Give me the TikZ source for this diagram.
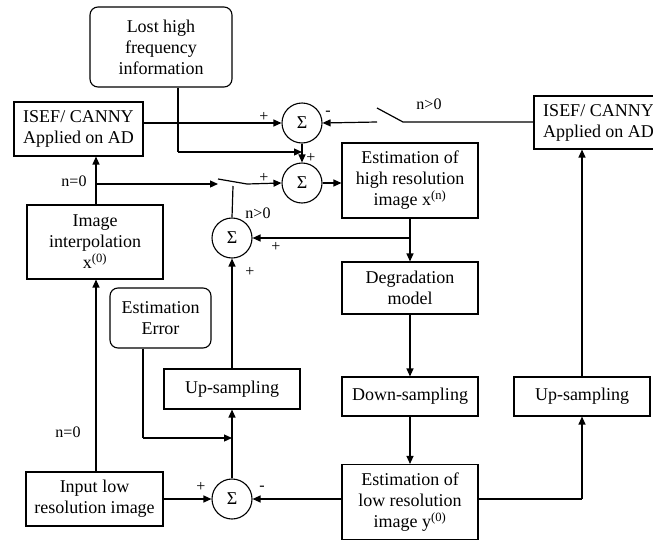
\documentclass[tikz,border=0pt]{standalone}
\usepackage{fontspec}
\setmainfont{Liberation Serif}
\usetikzlibrary{arrows.meta,positioning}
\begin{document}
\begin{tikzpicture}[x=1pt,y=-1pt,
  every node/.style={font=\fontsize{18}{21}\selectfont},
  blk/.style={draw,line width=1.1pt,align=center,inner sep=0pt,minimum width=#1},
  blk/.default=136pt,
  rblk/.style={draw,line width=1.1pt,align=center,inner sep=0pt,rounded corners=8pt},
  sumn/.style={draw,circle,line width=1.1pt,minimum size=40pt,inner sep=0pt},
  con/.style={line width=1.2pt},
  arr/.style={line width=1.2pt,-{Triangle[length=8pt,width=7pt]}},
  lbl/.style={inner sep=0pt,font=\fontsize{16}{18}\selectfont}
]
\useasboundingbox (0,0) rectangle (653,541);
% boxes
\node[rblk,minimum width=142pt,minimum height=80pt] (lost) at (161,47) {Lost high\\frequency\\information};
\node[blk=129pt,minimum height=54pt] (isefl) at (78.5,129) {ISEF/ CANNY\\Applied on AD};
\node[blk=136pt,minimum height=74pt] (interp) at (95,242) {Image\\interpolation\\x\textsuperscript{(0)}};
\node[rblk,minimum width=101pt,minimum height=60pt] (err) at (160.5,318) {Estimation\\Error};
\node[blk=136pt,minimum height=40pt] (upl) at (232,389) {Up-sampling};
\node[blk=137pt,minimum height=54pt] (input) at (94.5,499) {Input low\\resolution image};
\node[blk=136pt,minimum height=75pt] (esth) at (410,180.5) {Estimation of\\high resolution\\image x\textsuperscript{(n)}};
\node[blk=136pt,minimum height=52pt] (deg) at (410,288) {Degradation\\model};
\node[blk=136pt,minimum height=39pt] (down) at (410,396.5) {Down-sampling};
\node[blk=136pt,minimum height=75pt] (estl) at (410,502) {Estimation of\\low resolution\\image y\textsuperscript{(0)}};
\node[blk=136pt,minimum height=39pt] (upr) at (582,396.5) {Up-sampling};
\node[draw,line width=1.1pt,minimum width=129pt,minimum height=53pt,inner sep=0pt] (iserbox) at (598.5,122.5) {};
\node[align=center,inner sep=0pt] (iser) at (598.5,122.5) {ISEF/ CANNY\\Applied on AD};
% sums
\node[sumn] (s1) at (302,123) {Σ};
\node[sumn] (s2) at (302,183) {Σ};
\node[sumn] (sm) at (232,238) {Σ};
\node[sumn] (sb) at (232,499) {Σ};
% coordinates
\coordinate (lc2) at (178,152);
\coordinate (j152) at (302,152);
\coordinate (swA) at (403,122);
\coordinate (swB) at (377,108);
\coordinate (swC) at (377,122);
\coordinate (br) at (96,184);
\coordinate (sw2a) at (218,184);
\coordinate (sw2b) at (218,179);
\coordinate (sw2c) at (247,184);
\coordinate (piv) at (233,186);
\coordinate (j238) at (410,238);
\coordinate (ej) at (143,438);
\coordinate (ej2) at (232,438);
\coordinate (rc) at (582,499);
% connectors
\draw[arr] (isefl.east |- s1) -- (s1.west);
\draw[con] (iserbox.west |- swA) -- (swA) -- (swB);
\draw[arr] (swC) -- (s1.east);
\draw[arr] (s1.south) -- (s2.north);
\draw[con] (lost.south -| lc2) -- (lc2);
\draw[arr] (lc2) -- (j152);
\draw[arr] (interp.north -| br) -- (isefl.south -| br);
\draw[arr] (br) -- (sw2a);
\draw[con] (sw2b) -- (sw2c);
\draw[arr] (sw2c) -- (s2.west);
\draw[con] (sm.north) -- (piv);
\draw[arr] (s2.east) -- (esth.west |- s2);
\draw[arr] (esth.south) -- (deg.north);
\draw[arr] (j238) -- (sm.east);
\draw[arr] (deg.south) -- (down.north);
\draw[arr] (down.south) -- (estl.north);
\draw[arr] (estl.west |- sb) -- (sb.east);
\draw[arr] (input.east |- sb) -- (sb.west);
\draw[arr] (sb.north) -- (upl.south);
\draw[con] (err.south -| ej) -- (ej);
\draw[arr] (ej) -- (ej2);
\draw[arr] (upl.north) -- (sm.south);
\draw[arr] (input.north -| br) -- (interp.south -| br);
\draw[con] (estl.east |- rc) -- (rc);
\draw[arr] (rc) -- (upr.south);
\draw[arr] (upr.north) -- (iserbox.south -| upr);
% labels
\node[lbl] (p1) at (264,117) {+};
\node[lbl] (m1) at (328,113) {-};
\node[lbl] (n1) at (429,104) {n>0};
\node[lbl] (p2) at (311,158) {+};
\node[lbl] (p3) at (264,178) {+};
\node[lbl] (n2) at (74,181) {n=0};
\node[lbl] (n3) at (258,213) {n>0};
\node[lbl] (p4) at (276,247) {+};
\node[lbl] (p5) at (250,272) {+};
\node[lbl] (n4) at (68,432) {n=0};
\node[lbl] (p6) at (201,487) {+};
\node[lbl] (m2) at (262,488) {-};
\end{tikzpicture}
\end{document}
